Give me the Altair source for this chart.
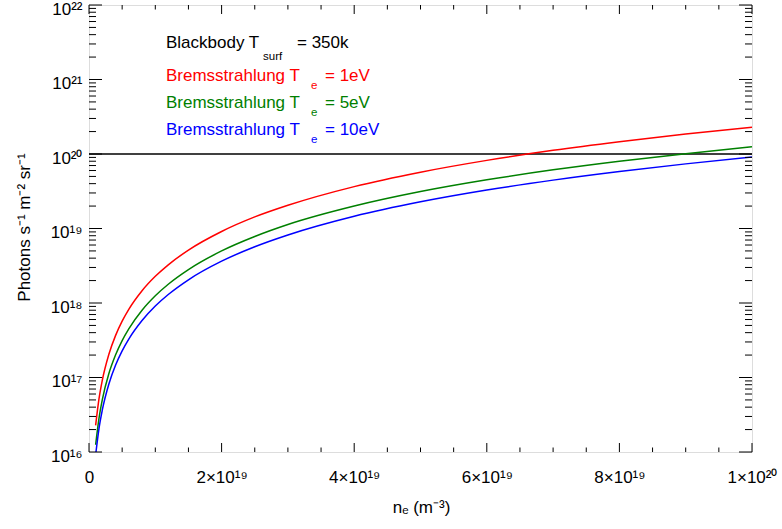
import altair as alt
import pandas as pd

FONT = "Liberation Sans"

# electron density (m^-3)
n_e = [1e18, 1.5e18, 2e18, 3e18, 4e18, 5e18, 6e18, 8e18, 1e19, 1.2e19, 1.5e19,
       2e19, 2.5e19, 3e19, 4e19, 5e19, 6e19, 7e19, 8e19, 9e19, 1e20]
# photons s^-1 m^-2 sr^-1
brems_1eV = [2.28e16, 5.13e16, 9.12e16, 2.05e17, 3.65e17, 5.7e17, 8.21e17, 1.46e18,
             2.28e18, 3.28e18, 5.13e18, 9.12e18, 1.43e19, 2.05e19, 3.65e19, 5.7e19,
             8.21e19, 1.12e20, 1.46e20, 1.85e20, 2.28e20]
brems_5eV = [1.25e16, 2.81e16, 5.0e16, 1.13e17, 2.0e17, 3.13e17, 4.5e17, 8.0e17,
             1.25e18, 1.8e18, 2.81e18, 5.0e18, 7.81e18, 1.13e19, 2.0e19, 3.13e19,
             4.5e19, 6.13e19, 8.0e19, 1.01e20, 1.25e20]
brems_10eV = [9.1e15, 2.05e16, 3.64e16, 8.19e16, 1.46e17, 2.28e17, 3.28e17, 5.82e17,
              9.1e17, 1.31e18, 2.05e18, 3.64e18, 5.69e18, 8.19e18, 1.46e19, 2.28e19,
              3.28e19, 4.46e19, 5.82e19, 7.37e19, 9.1e19]
bb_x = [0, 1e20]
bb_y = [1e20, 1e20]

series_names = ["Te = 1eV", "Te = 5eV", "Te = 10eV"]
series_colors = ["#ff0000", "#008000", "#0000ff"]

x_major = [0, 2e19, 4e19, 6e19, 8e19, 1e20]
x_labels = ["0", "2×10¹⁹", "4×10¹⁹", "6×10¹⁹", "8×10¹⁹", "1×10²⁰"]
x_minor = [5e18, 1e19, 1.5e19, 2.5e19, 3e19, 3.5e19, 4.5e19, 5e19, 5.5e19,
           6.5e19, 7e19, 7.5e19, 8.5e19, 9e19, 9.5e19]
y_exps = [16, 17, 18, 19, 20, 21, 22]
y_labels = ["10¹⁶", "10¹⁷", "10¹⁸", "10¹⁹", "10²⁰", "10²¹", "10²²"]
y_major = [10.0 ** e for e in y_exps]
y_minor = [m * 10.0 ** e for e in y_exps[:-1] for m in range(2, 10)]

XT = "nₑ (m⁻³)"
YT = "Photons s⁻¹ m⁻² sr⁻¹"

rows = []
for name, vals in zip(series_names, [brems_1eV, brems_5eV, brems_10eV]):
    for n, v in zip(n_e, vals):
        rows.append({"n": n, "v": v, "series": name})
df = pd.DataFrame(rows)
df_bb = pd.DataFrame({"n": bb_x, "v": bb_y})

x_expr = " : ".join(
    f"round(datum.value/1e19) == {round(v / 1e19)} ? '{l}'" for v, l in zip(x_major, x_labels)
) + " : ''"
y_expr = " : ".join(
    f"round(log(datum.value)/LN10) == {e} ? '{l}'" for e, l in zip(y_exps, y_labels)
) + " : ''"

xscale = alt.Scale(domain=[0, 1e20], nice=False, zero=False)
yscale = alt.Scale(type="log", domain=[1e16, 1e22], nice=False)

x_main = alt.Axis(orient="bottom", values=x_major, labelExpr=x_expr, ticks=False,
                  domain=False, grid=False, labelFont=FONT, labelFontSize=17,
                  labelColor="black", labelPadding=17, labelFlush=False,
                  labelOverlap=False, titleFont=FONT, titleFontSize=17,
                  titleFontWeight="normal", titleColor="black", titleX=332,
                  titleY=60, titleAlign="center", titleBaseline="alphabetic")
y_main = alt.Axis(orient="left", values=y_major, labelExpr=y_expr, ticks=False,
                  domain=False, grid=False, labelFont=FONT, labelFontSize=17,
                  labelColor="black", labelPadding=7, labelOverlap=False,
                  labelBaseline="middle", labelOffset=4, titleFont=FONT,
                  titleFontSize=17, titleFontWeight="normal", titleColor="black",
                  titleX=-65, titleY=222, titleAngle=270, titleAlign="center",
                  titleBaseline="middle")


def X():
    return alt.X("n:Q", scale=xscale, axis=x_main, title=XT)


def Y():
    return alt.Y("v:Q", scale=yscale, axis=y_main, title=YT)


bb = alt.Chart(df_bb).mark_line(color="black", strokeWidth=1.5, clip=True).encode(
    x=X(), y=Y()
)

lines = alt.Chart(df).mark_line(strokeWidth=1.5, clip=True, interpolate="monotone").encode(
    x=X(), y=Y(),
    color=alt.Color("series:N", scale=alt.Scale(domain=series_names, range=series_colors),
                    legend=None),
)

# inward ticks on all four sides
W, H = 663, 447
df_xmaj = pd.DataFrame({"n": x_major})
df_xmin = pd.DataFrame({"n": x_minor})
df_ymaj = pd.DataFrame({"v": y_major})
df_ymin = pd.DataFrame({"v": y_minor})

ticks = []
for dfx, ln in [(df_xmaj, 9), (df_xmin, 4.5)]:
    ticks.append(alt.Chart(dfx).mark_rule(color="black", strokeWidth=1).encode(
        x=X(), y=alt.value(H - ln), y2=alt.value(H)))
    ticks.append(alt.Chart(dfx).mark_rule(color="black", strokeWidth=1).encode(
        x=X(), y=alt.value(0), y2=alt.value(ln)))
for dfy, ln in [(df_ymaj, 13), (df_ymin, 7)]:
    ticks.append(alt.Chart(dfy).mark_rule(color="black", strokeWidth=1).encode(
        y=Y(), x=alt.value(0), x2=alt.value(ln)))
    ticks.append(alt.Chart(dfy).mark_rule(color="black", strokeWidth=1).encode(
        y=Y(), x=alt.value(W - ln), x2=alt.value(W)))

# legend text pieces
legend_main = ["Blackbody T", "Bremsstrahlung T", "Bremsstrahlung T", "Bremsstrahlung T"]
legend_sub = ["surf", "e", "e", "e"]
legend_rest = ["= 350k", "= 1eV", "= 5eV", "= 10eV"]
legend_colors = ["black"] + series_colors
legend_y = [43, 76, 103, 130]
sub_x = [174, 222, 222, 222]
sub_dy = [12, 8, 8, 8]
rest_x = [208, 236, 236, 236]

texts = []
for i in range(4):
    for txt, xx, yy, fs in [
        (legend_main[i], 77, legend_y[i], 17),
        (legend_sub[i], sub_x[i], legend_y[i] + sub_dy[i], 11.5),
        (legend_rest[i], rest_x[i], legend_y[i], 17),
    ]:
        texts.append(
            alt.Chart(pd.DataFrame({"t": [txt]})).mark_text(
                align="left", baseline="alphabetic", font=FONT, fontSize=fs,
                color=legend_colors[i]
            ).encode(x=alt.value(xx), y=alt.value(yy), text="t:N")
        )

chart = alt.layer(bb, lines, *ticks, *texts).properties(
    width=W, height=H,
    padding={"left": 89, "top": 5, "right": 30, "bottom": 77},
    autosize=alt.AutoSizeParams(type="none"),
).configure_view(stroke="black", strokeWidth=1.2).configure(background="white")

chart.save("out.html", embed_options={"renderer": "svg", "actions": False})
